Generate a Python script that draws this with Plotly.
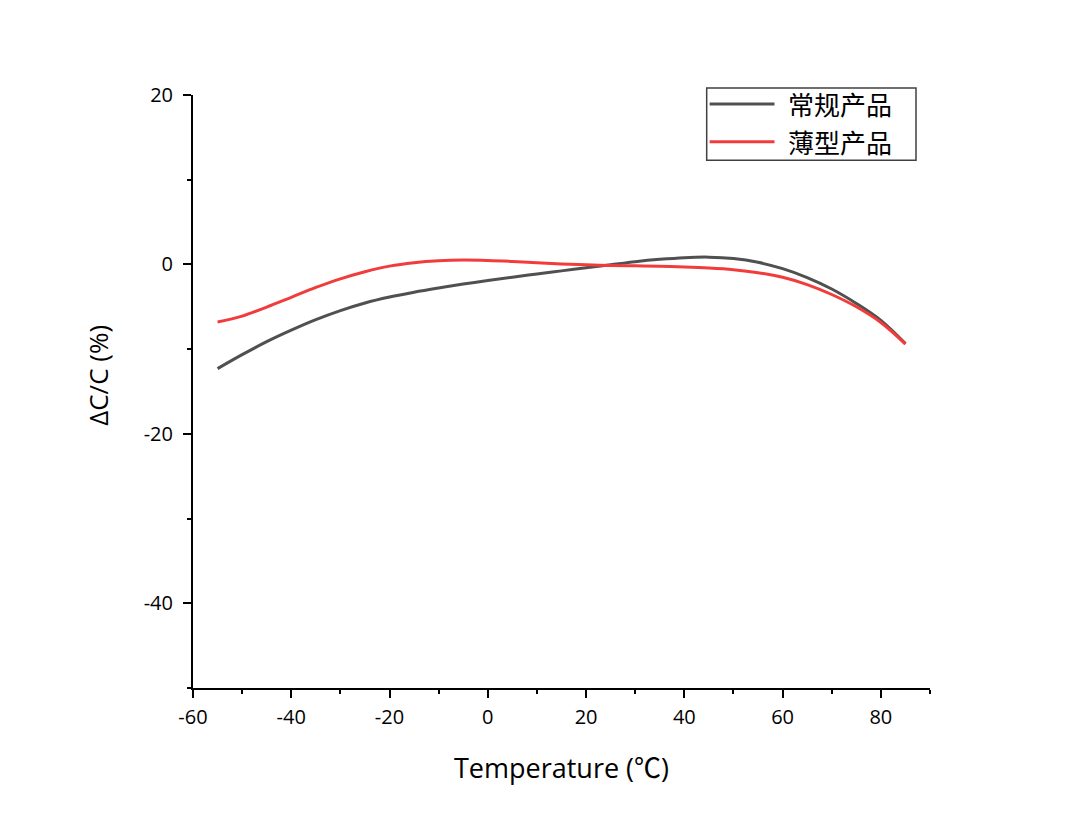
import plotly.graph_objects as go

temps = [-55, -50, -45, -40, -35, -30, -25, -20, -15, -10, -5, 0, 5, 10, 15, 20,
         25, 30, 35, 40, 45, 50, 55, 60, 65, 70, 75, 80, 85]
regular = [-12.3, -10.65, -9.12, -7.76, -6.52, -5.45, -4.55, -3.85, -3.28, -2.78, -2.32,
           -1.9, -1.5, -1.12, -0.76, -0.4, -0.04, 0.32, 0.6, 0.8, 0.86, 0.7, 0.25,
           -0.5, -1.55, -2.9, -4.6, -6.6, -9.35]
thin = [-6.8, -6.1, -5.03, -3.88, -2.72, -1.7, -0.86, -0.2, 0.2, 0.43, 0.52, 0.47,
        0.35, 0.2, 0.06, -0.05, -0.12, -0.17, -0.22, -0.3, -0.42, -0.62, -0.97, -1.52,
        -2.38, -3.55, -5.0, -6.85, -9.4]
names = ["常规产品", "薄型产品"]
colors = ["#505050", "#f23c3c"]

x_ticks = [-60, -40, -20, 0, 20, 40, 60, 80]
x_tick_text = ["-60", "-40", "-20", "0", "20", "40", "60", "80"]
y_ticks = [20, 0, -20, -40]
y_tick_text = ["20", "0", "-20", "-40"]

fig = go.Figure()
for ys, nm, c in zip([regular, thin], names, colors):
    fig.add_trace(go.Scatter(x=temps, y=ys, mode="lines", name=nm,
                             line=dict(color=c, width=3, shape="spline", smoothing=1.0),
                             showlegend=False))

axis_common = dict(showline=True, linecolor="black", linewidth=2, ticks="outside",
                   ticklen=8, tickwidth=2, tickcolor="black", showgrid=False,
                   zeroline=False, tickfont=dict(family="Open Sans", size=20, color="black"))
fig.update_xaxes(range=[-60, 90], tickmode="array", tickvals=x_ticks, ticktext=x_tick_text,
                 minor=dict(dtick=10, tick0=-60, ticklen=4, tickwidth=2, ticks="outside",
                            tickcolor="black"),
                 ticklabelstandoff=2,
                 title=dict(text="Temperature (<span style=\"font-family:'Noto Sans CJK SC'\">℃</span>)",
                            font=dict(family="Open Sans", size=27, color="black"),
                            standoff=30),
                 **axis_common)
fig.update_yaxes(range=[-50, 20], tickmode="array", tickvals=y_ticks, ticktext=y_tick_text,
                 minor=dict(dtick=10, tick0=0, ticklen=4, tickwidth=2, ticks="outside",
                            tickcolor="black"),
                 ticklabelstandoff=6,
                 **axis_common)

fig.add_annotation(xref="paper", yref="paper", x=-0.129, y=0.528, text="ΔC/C (%)",
                   textangle=-90, showarrow=False, xanchor="center", yanchor="middle",
                   font=dict(family="Open Sans", size=26, color="black"))

# custom legend
fig.add_shape(type="rect", xref="paper", yref="paper", x0=0.697, x1=0.981, y0=0.890, y1=1.012,
              line=dict(color="#404040", width=1.5), fillcolor="white", layer="above")
leg_y = [0.985, 0.921]
for yy, nm, c in zip(leg_y, names, colors):
    fig.add_shape(type="line", xref="paper", yref="paper", x0=0.701, x1=0.789, y0=yy, y1=yy,
                  line=dict(color=c, width=3))
    fig.add_annotation(xref="paper", yref="paper", x=0.806, y=yy, text=nm, showarrow=False,
                       xanchor="left", yanchor="middle", borderpad=0,
                       font=dict(family="Noto Sans CJK SC", size=26, color="black"))

fig.update_layout(width=1080, height=826, margin=dict(l=193, r=150, t=95, b=138),
                  paper_bgcolor="white", plot_bgcolor="white")
fig.write_html("out.html")
